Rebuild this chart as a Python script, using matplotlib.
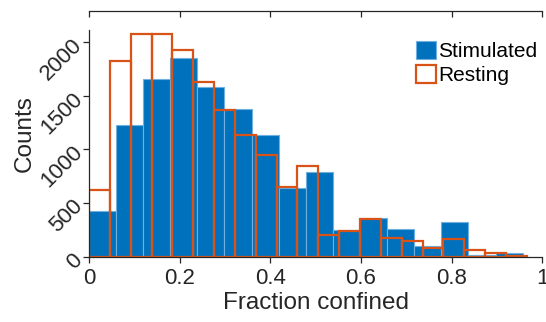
import numpy as np
import matplotlib
matplotlib.use('Agg')
import matplotlib.pyplot as plt

plt.rcParams['font.family'] = ['Liberation Sans', 'DejaVu Sans']

# bin widths for the two histograms
stim_width = 0.0598
rest_width = 0.046

# counts per bin
stim_counts = [425, 1225, 1652, 1848, 1584, 1376, 1135, 639, 788, 251,
               360, 263, 105, 328, 22, 34]
rest_counts = [623, 1826, 2074, 2071, 1928, 1630, 1367, 1138, 951, 648,
               849, 205, 242, 356, 177, 149, 81, 167, 68, 40, 9]

xticks = [0, 0.2, 0.4, 0.6, 0.8, 1]
xtick_labels = ['0', '0.2', '0.4', '0.6', '0.8', '1']
yticks = [0, 500, 1000, 1500, 2000]

blue = '#0072BD'
orange = '#D95319'
axc = '#262626'

fig = plt.figure(figsize=(5.46, 3.22), dpi=100)
ax = fig.add_axes([0.163, 0.202, 0.83, 0.764])

stim_left = np.arange(len(stim_counts)) * stim_width
rest_left = np.arange(len(rest_counts)) * rest_width

ax.bar(stim_left, stim_counts, width=stim_width, align='edge',
       color=blue, edgecolor='#6fb0e0', linewidth=0.8, label='Stimulated')
ax.bar(rest_left, rest_counts, width=rest_width, align='edge',
       fill=False, edgecolor=orange, linewidth=1.6, label='Resting')

ax.set_xlim(0, 1)
ax.set_ylim(0, 2288)
ax.set_xticks(xticks)
ax.set_xticklabels(xtick_labels)
ax.set_yticks(yticks)
ax.set_yticklabels([str(v) for v in yticks], rotation=45, ha='right',
                   va='center', rotation_mode='anchor')

for s in ['right', 'top']:
    ax.spines[s].set_visible(False)
ax.spines['left'].set_bounds(0, 2112)
for s in ['left', 'bottom']:
    ax.spines[s].set_color(axc)
    ax.spines[s].set_linewidth(0.9)

ax.tick_params(axis='both', direction='out', length=4, width=0.9,
               color=axc, labelsize=16, labelcolor='#262626')
ax.tick_params(axis='x', pad=4)
ax.tick_params(axis='y', pad=3)

top = ax.secondary_xaxis('top')
top.set_xticks(xticks)
top.tick_params(direction='in', length=4, width=0.9, color=axc,
                labeltop=False)
top.spines['top'].set_color(axc)
top.spines['top'].set_linewidth(0.9)

ax.set_xlabel('Fraction confined', fontsize=17.5, color='#262626', labelpad=2)
ax.set_ylabel('Counts', fontsize=17.5, color='#262626', labelpad=1)

ax.legend(loc='upper left', bbox_to_anchor=(0.722, 0.878), frameon=False,
          fontsize=15, handlelength=0.95, handleheight=0.95,
          handletextpad=0.1, labelspacing=0.2, borderpad=0, borderaxespad=0)

fig.savefig('out.png', dpi=100)
